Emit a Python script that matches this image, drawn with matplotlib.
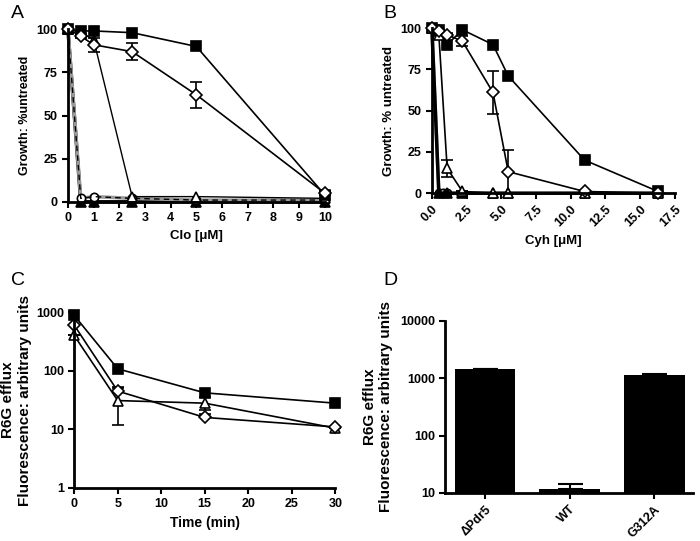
import numpy as np
import matplotlib
matplotlib.use('Agg')
from matplotlib import pyplot as plt

plt.rcParams['font.family'] = ['Liberation Sans', 'DejaVu Sans']
plt.rcParams['font.weight'] = 'bold'

# Panel A: growth vs clotrimazole
clo_x = [0, 0.5, 1, 2.5, 5, 10]
clo_sq = [100, 99, 99, 98, 90, 4]
clo_dia = [100, 96, 91, 87, 62, 5]
clo_dia_err = [0, 1, 4, 5, 7.5, 1]
clo_tri = [100, 98, 94, 3, 3, 2]
clo_circ = [100, 2, 3, 2, 1, 1]
clo_ftri = [100, 0, 0, 0, 0, 0]

# Panel B: growth vs cycloheximide
cyh_x = [0, 0.5, 1.1, 2.2, 4.4, 5.5, 11, 16.3]
cyh_sq = [100, 99, 90, 99, 90, 71, 20, 1]
cyh_dia = [100, 98, 96, 92, 61, 13, 1, 0]
cyh_dia_err = [0, 1, 1, 3, 13, 13, 0, 0]
cyh_tri = [100, 96, 15, 1, 0, 0, 0, 0]
cyh_tri_err = [0, 1, 5, 0, 0, 0, 0, 0]
cyh_circ_x = [0, 0.5, 0.8, 1.1]
cyh_circ = [100, 0, 0, 0]
cyh_ftri = [100, 0, 0, 0, 0, 0, 0, 0]

# Panel C: R6G efflux over time
time_x = [0, 5, 15, 30]
eff_sq = [880, 108, 42, 28]
eff_dia = [600, 45, 16, 11]
eff_dia_err_up = [0, 8, 2, 0]
eff_tri = [400, 31, 28, 10.5]
eff_tri_err = [0, 19, 7, 0]

# Panel D: R6G efflux per strain
strains = ['\u0394Pdr5', 'WT', 'G312A']
strain_val = [1470, 11.6, 1140]
strain_err = [0, 2.6, 40]

fig = plt.figure(figsize=(7, 5.41), dpi=100)


def style_axes(ax):
    for s in ['top', 'right']:
        ax.spines[s].set_visible(False)
    for s in ['left', 'bottom']:
        ax.spines[s].set_linewidth(2)
    ax.tick_params(width=1.5, length=4, labelsize=9)
    for lab in ax.get_xticklabels() + ax.get_yticklabels():
        lab.set_fontweight('bold')


mk = dict(clip_on=False, markeredgewidth=1.2, markeredgecolor='black')

# ---- A ----
axA = fig.add_axes([0.097, 0.627, 0.367, 0.319])
axA.plot(clo_x, clo_ftri, '-', color='black', lw=2.5, marker='^', ms=7,
         markerfacecolor='black', **mk)
axA.plot(clo_x, clo_circ, '-', color='#999999', lw=2.5, marker='o', ms=6,
         markerfacecolor='white', **mk)
axA.plot(clo_x, clo_circ, '--', color='black', lw=1, dashes=(4, 3), clip_on=False)
axA.plot(clo_x, clo_tri, '-', color='black', lw=1, marker='^', ms=7,
         markerfacecolor='white', **mk)
axA.errorbar(clo_x, clo_dia, yerr=clo_dia_err, fmt='-', color='black', lw=1.2,
             marker='D', ms=6, markerfacecolor='white', capsize=4,
             elinewidth=1.2, **mk)
axA.plot(clo_x, clo_sq, '-', color='black', lw=1.2, marker='s', ms=7,
         markerfacecolor='black', **mk)
axA.set_xlim(0, 10)
axA.set_ylim(0, 100)
axA.set_xticks(range(0, 11))
axA.set_yticks([0, 25, 50, 75, 100])
axA.set_xlabel('Clo [\u03bcM]', fontsize=9.5, fontweight='bold')
axA.set_ylabel('Growth: %untreated', fontsize=9, fontweight='bold')
style_axes(axA)

# ---- B ----
axB = fig.add_axes([0.617, 0.643, 0.347, 0.305])
axB.plot(cyh_circ_x, cyh_circ, '-', color='#999999', lw=2.5, marker='o', ms=6,
         markerfacecolor='white', **mk)
axB.plot(cyh_circ_x, cyh_circ, '--', color='black', lw=1, dashes=(4, 3), clip_on=False)
axB.plot(cyh_x, cyh_ftri, '-', color='black', lw=2.5, marker='^', ms=7,
         markerfacecolor='black', **mk)
axB.errorbar(cyh_x, cyh_tri, yerr=cyh_tri_err, fmt='-', color='black', lw=1.2,
             marker='^', ms=7, markerfacecolor='white', capsize=4,
             elinewidth=1.2, **mk)
axB.errorbar(cyh_x, cyh_dia, yerr=cyh_dia_err, fmt='-', color='black', lw=1.2,
             marker='D', ms=6, markerfacecolor='white', capsize=4,
             elinewidth=1.2, **mk)
axB.plot(cyh_x, cyh_sq, '-', color='black', lw=1.2, marker='s', ms=7,
         markerfacecolor='black', **mk)
axB.set_xlim(0, 17.5)
axB.set_ylim(0, 100)
axB.set_xticks(np.arange(0, 17.6, 2.5))
axB.set_xticklabels(['%.1f' % v for v in np.arange(0, 17.6, 2.5)], rotation=45,
                    ha='right', rotation_mode='anchor')
axB.set_yticks([0, 25, 50, 75, 100])
axB.set_xlabel('Cyh [\u03bcM]', fontsize=9.5, fontweight='bold')
axB.set_ylabel('Growth: % untreated', fontsize=9.5, fontweight='bold')
style_axes(axB)

# ---- C ----
axC = fig.add_axes([0.106, 0.098, 0.373, 0.325])
axC.errorbar(time_x, eff_tri, yerr=eff_tri_err, fmt='-', color='black', lw=1.2,
             marker='^', ms=7, markerfacecolor='white', capsize=4,
             elinewidth=1.2, **mk)
axC.errorbar(time_x, eff_dia, yerr=[[0] * 4, eff_dia_err_up], fmt='-',
             color='black', lw=1.2, marker='D', ms=6, markerfacecolor='white',
             capsize=4, elinewidth=1.2, **mk)
axC.plot(time_x, eff_sq, '-', color='black', lw=1.2, marker='s', ms=7,
         markerfacecolor='black', **mk)
axC.set_yscale('log')
axC.set_xlim(0, 30)
axC.set_ylim(1, 1000)
axC.set_xticks(range(0, 31, 5))
axC.set_yticks([1, 10, 100, 1000])
axC.set_yticklabels(['1', '10', '100', '1000'])
axC.minorticks_off()
axC.set_xlabel('Time (min)', fontsize=10, fontweight='bold')
axC.set_ylabel('R6G efflux\nFluorescence: arbitrary units', fontsize=11,
               fontweight='bold', labelpad=3)
style_axes(axC)

# ---- D ----
axD = fig.add_axes([0.636, 0.089, 0.354, 0.318])
pos = np.arange(len(strains))
axD.bar(pos, strain_val, width=0.72, color='black', bottom=0)
axD.errorbar(pos, strain_val, yerr=[[0] * 3, strain_err], fmt='none',
             ecolor='black', capsize=9, elinewidth=1.5, capthick=1.5)
axD.set_yscale('log')
axD.set_ylim(10, 10000)
axD.set_xlim(-0.47, 2.46)
axD.set_xticks(pos)
axD.set_xticklabels(strains, rotation=45, ha='right', rotation_mode='anchor')
axD.set_yticks([10, 100, 1000, 10000])
axD.set_yticklabels(['10', '100', '1000', '10000'])
axD.minorticks_off()
axD.set_ylabel('R6G efflux\nFluorescence: arbitrary units', fontsize=11,
               fontweight='bold', labelpad=5)
style_axes(axD)

for lbl, (x, y) in zip('ABCD', [(0.016, 0.99), (0.547, 0.99), (0.016, 0.497), (0.547, 0.497)]):
    fig.text(x, y, lbl, fontsize=14, fontweight='normal', va='top', ha='left')

fig.savefig('out.png', dpi=100, facecolor='white')
